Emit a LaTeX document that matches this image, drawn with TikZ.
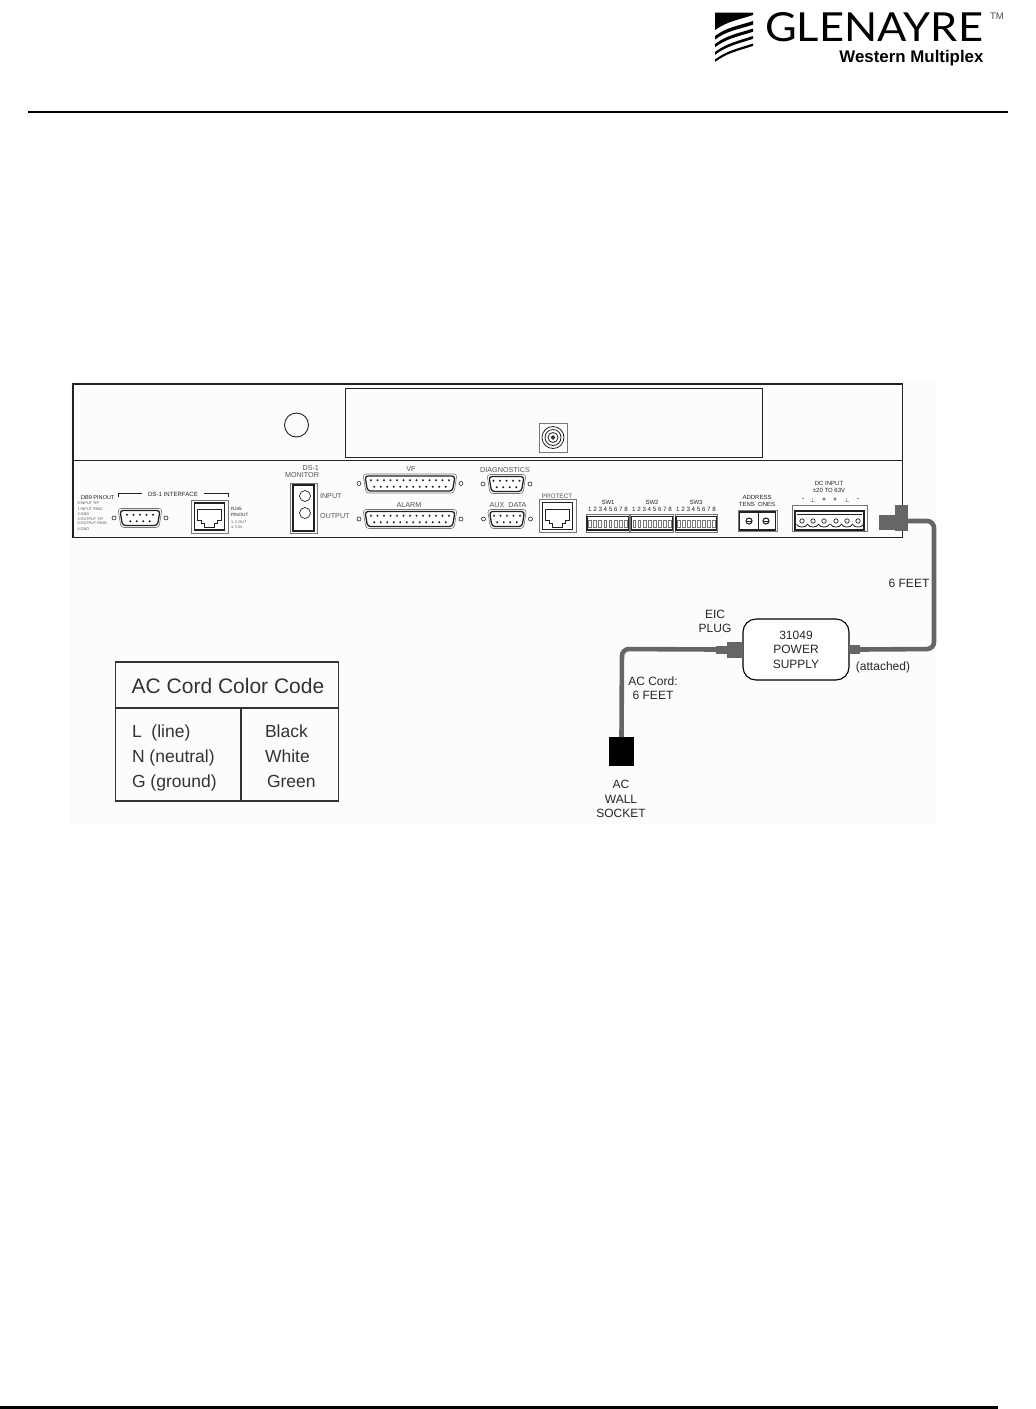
\documentclass[tikz,border=0pt]{standalone}
\usepackage{fontspec}
\setmainfont{Liberation Sans}
\newfontfamily\logofont{Lato}
\usetikzlibrary{calc}
\definecolor{cablegray}{HTML}{666666}
\definecolor{labelgray}{HTML}{555555}
\definecolor{edgegray}{HTML}{777777}
\definecolor{dark}{HTML}{222222}
\tikzset{
  every node/.style={inner sep=0pt,outer sep=0pt,font=\fontsize{12}{14.5}\selectfont,text=black!85},
  cable/.style={draw=cablegray,line width=4.6pt,rounded corners=7pt},
  plughead/.style={fill=cablegray,draw=none},
  panel/.style={draw=dark,line width=1.3pt},
  faint/.style={text=labelgray,font=\fontsize{7.2}{8}\selectfont},
  tiny/.style={text=dark,font=\fontsize{6}{7}\selectfont},
  micro/.style={text=labelgray,font=\fontsize{3.8}{4}\selectfont,anchor=west},
  tablet/.style={text=black!80,font=\fontsize{17.5}{20}\selectfont,anchor=base west},
  screw/.style={draw=dark,line width=.6pt,fill=white}
}
% D-sub connector: cx, cy, half width, top pins, bottom pins
\newcommand{\dsubconn}[5]{%
  \begin{scope}[shift={(#1,#2)}]
    \draw[edgegray,line width=.6pt,rounded corners=3pt] (-#3,-9.5) -- (#3,-9.5) -- (#3-3,9.5) -- (-#3+3,9.5) -- cycle;
    \draw[dark,line width=1.3pt,fill=white,rounded corners=3pt] (-#3+2,-7.5) -- (#3-2,-7.5) -- (#3-4.5,7.5) -- (-#3+4.5,7.5) -- cycle;
    \pgfmathsetmacro{\startA}{-(#4-1)*3.25}
    \pgfmathsetmacro{\startB}{-(#5-1)*3.25}
    \foreach \i in {1,...,#4}{\fill[dark] ({\startA+(\i-1)*6.5},-3.2) circle (1.15);}
    \foreach \i in {1,...,#5}{\fill[dark] ({\startB+(\i-1)*6.5},3.2) circle (1.15);}
    \draw[screw] (-#3-4,0) circle (2);
    \draw[screw] (#3+4,0) circle (2);
  \end{scope}}
% RJ45 jack: cx, cy
\newcommand{\rjjack}[2]{%
  \begin{scope}[shift={(#1,#2)}]
    \draw[edgegray,line width=.8pt] (-18.5,-16.5) rectangle (18.5,16.5);
    \draw[dark,line width=1.5pt,fill=white] (-15,-13.5) rectangle (15,13.5);
    \draw[dark,line width=1pt] (-12,-7) -- (12,-7) -- (12,4) -- (8,4) -- (8,7) -- (5,7) -- (5,11) -- (-5,11) -- (-5,7) -- (-8,7) -- (-8,4) -- (-12,4) -- cycle;
  \end{scope}}
% DIP switch: left, right
\newcommand{\dipswitch}[2]{%
  \draw[edgegray,line width=.6pt] (#1,514.5) rectangle (#2,532);
  \draw[dark,line width=1.3pt,fill=white] (#1+1,516.5) rectangle (#2-1,530);
  \pgfmathsetmacro{\dipmid}{(#1+#2)/2}
  \foreach \i in {-3.5,-2.5,...,3.5}{\draw[edgegray,line width=.5pt] ({\dipmid+\i*5.1-1.4},520) rectangle ({\dipmid+\i*5.1+1.4},527);}
}
\begin{document}
\begin{tikzpicture}[x=1pt,y=-1pt]
\useasboundingbox (0,0) rectangle (1036,1409);
\fill[white] (0,0) rectangle (1036,1409);
\fill[black!1] (70,380) rectangle (936,825);
% header
\draw[black,line width=2pt] (28,111.5) -- (1008,111.5);
\draw[black,line width=3pt] (0,1407.5) -- (998,1407.5);
% logo
\fill[black] (715,12.5) -- (753,12.5) -- (753,15) .. controls (738,20) and (728,21) .. (715,30) -- cycle;
\foreach \yl/\yr/\t in {36/21/3.6,44/28.5/3.2,52/36/2.8,59.5/43.5/2.4}{
  \fill[black] (715,\yl) .. controls (727,{\yl-9}) and (738,{\yr+5}) .. (753,\yr)
     -- (753,{\yr+\t}) .. controls (738,{\yr+5+\t}) and (727,{\yl-9+\t}) .. (715,{\yl+\t}) -- cycle;}
\node[anchor=west,text=black] (brand) at (765,27.5) {\resizebox{218pt}{29pt}{\logofont GLENAYRE}};
\node[anchor=west,text=black!70,font=\fontsize{9.5}{10}\selectfont] (tm) at (990,16) {TM};
\node[anchor=east,text=black] (sub) at (983.5,58) {\resizebox{144pt}{!}{\bfseries Western Multiplex}};
% chassis
\draw[panel] (73,384) rectangle (902.5,537.5);
\draw[panel] (73,460.5) -- (902.5,460.5);
\draw[dark,line width=.9pt] (296.5,425) circle (12);
\draw[dark,line width=1pt] (345.5,388) rectangle (762.5,457);
\draw[edgegray,line width=.7pt,fill=white] (539,423) rectangle (567,452);
\foreach \r/\w in {11/.8,8/.8,5/.8,1.5/1.2}{\draw[dark,line width=\w pt] (553,437.5) circle (\r);}
% DS-1 interface
\node[text=dark,font=\fontsize{5.6}{6}\selectfont,anchor=west] (db9t) at (81,498) {DB9 PINOUT};
\foreach \t/\y in {8 INPUT TIP/503.5,1 INPUT RING/509,2 GND/514,3 OUTPUT TIP/519,6 OUTPUT RING/523.5,4 GND/529}
  {\node[micro] at (77.5,\y) {\t};}
\node[faint,text=dark,font=\fontsize{6.1}{7}\selectfont] (dsi) at (173,494) {DS-1 INTERFACE};
\draw[dark,line width=.6pt] (118,497) -- (118,493.5) -- (142,493.5);
\draw[dark,line width=.6pt] (204,493.5) -- (228,493.5) -- (228,497);
\dsubconn{140}{518}{22}{5}{4}
\rjjack{209.5}{516.5}
\node[anchor=west,text=dark,font=\fontsize{4.6}{6}\selectfont,align=left] (rjt) at (231,512) {RJ45\\PINOUT};
\node[micro] at (231,522) {1, 2 OUT};
\node[micro] at (231,527) {4, 5 IN};
% monitor
\node[faint,anchor=east] (mon1) at (319,468) {DS-1};
\node[faint,anchor=east] (mon2) at (319,475) {MONITOR};
\draw[edgegray,line width=.8pt] (290,483) rectangle (317,533);
\draw[dark,line width=1.5pt,fill=white] (293,485) rectangle (314,531);
\draw[dark,line width=.7pt] (305,496) circle (5.5);
\draw[dark,line width=.7pt] (305,513) circle (5.5);
\node[faint,anchor=west] (mi) at (320,496) {INPUT};
\node[faint,anchor=west] (mo) at (320,516) {OUTPUT};
% VF / alarm
\node[faint] (vf) at (411,469) {VF};
\dsubconn{410}{483.5}{47}{13}{12}
\node[faint] (al) at (409,505) {ALARM};
\dsubconn{410}{519}{47}{13}{12}
\node[faint] (dg) at (505,470) {DIAGNOSTICS};
\dsubconn{506.5}{484}{19.5}{5}{4}
\node[faint] (aux) at (508,505) {AUX\ \ DATA};
\dsubconn{507}{519}{19.5}{5}{4}
\node[faint,font=\fontsize{6.4}{7}\selectfont] (pr) at (557,496) {PROTECT};
\rjjack{557.5}{516}
% switches
\dipswitch{586}{629.5}
\dipswitch{630.5}{673.5}
\dipswitch{675}{717.5}
\foreach \x/\t in {608/SW1,652/SW2,696/SW3}{
  \node[tiny] at (\x,502) {\t};
  \node[tiny,font=\fontsize{6.2}{7}\selectfont] at (\x,509) {1 2 3 4 5 6 7 8};}
% address
\node[tiny,align=center] (adr) at (757,501) {ADDRESS\\TENS\ \ ONES};
\draw[edgegray,line width=.7pt] (738,510) rectangle (777,531.5);
\draw[dark,line width=1.2pt,fill=white] (739.5,512) rectangle (775.5,530);
\draw[dark,line width=1pt] (758,512) -- (758,530);
\foreach \x in {749,766}{\draw[dark,line width=1.1pt] (\x,521) circle (3); \draw[dark,line width=.8pt] ({\x-2.5},521) -- ({\x+2.5},521);}
% DC input
\node[tiny,align=center] (dci) at (829,486.5) {DC INPUT\\±20 TO 63V};
\foreach \x/\t in {803/-,813/$\perp$,824/+,835/+,847/$\perp$,858/-}{\node[tiny,font=\bfseries\fontsize{6}{7}\selectfont] at (\x,500) {\t};}
\draw[edgegray,line width=.7pt] (792,505) rectangle (867,531.5);
\draw[dark,line width=1.5pt,fill=white] (795,511) rectangle (864,530);
\draw[dark,line width=.8pt] (797,514) -- (862,514);
\foreach \x in {802,813,824,836,847,858}{
  \draw[dark,line width=.7pt] (\x,521) circle (2.2);
  \draw[dark,line width=.8pt] ({\x-5.6},524) to[bend right=70] ({\x+5.6},524);}
% power path
\node[plughead,minimum width=13,minimum height=26] (dchead) at (901.5,518) {};
\node[plughead,minimum width=16,minimum height=15] (dcneck) at (887,522.5) {};
\node[draw=black,line width=1.1pt,rounded corners=13pt,fill=white,minimum width=106,minimum height=61,align=center] (psu) at (796,649.5) {31049\\POWER\\SUPPLY};
\node[plughead,minimum width=11,minimum height=9,anchor=west] (outplug) at (psu.east) {};
\node[plughead,minimum width=16,minimum height=16,anchor=east] (eichead) at (psu.west) {};
\node[plughead,minimum width=11,minimum height=8,anchor=east] (eicneck) at (eichead.west) {};
\node[fill=black,minimum width=25,minimum height=29] (wall) at (621.5,751.5) {};
\coordinate (c1) at (934,521);
\coordinate (c2) at (934,649);
\coordinate (c3) at (622,649);
\draw[cable] (dchead.east |- c1) -- (c1) -- (c2) -- (outplug.east);
\draw[cable] (eicneck.west) -- (c3) -- (wall.north);
\node (feet) at (909,583) {6 FEET};
\node[align=center] (eic) at (715,621.5) {EIC\\PLUG};
\node (att) at (883,667) {(attached)};
\node[align=center] (cord) at (653,688) {AC Cord:\\6 FEET};
\node[align=center] (wl) at (621,799) {AC\\WALL\\SOCKET};
% colour table
\draw[black!80,line width=1.6pt] (115.5,662) rectangle (338.5,801);
\draw[black!80,line width=1.6pt] (115.5,708) -- (338.5,708);
\draw[black!80,line width=1.6pt] (241,708) -- (241,801);
\node[font=\fontsize{21}{22}\selectfont,text=black!80] (tt) at (228,686) {AC Cord Color Code};
\node[tablet] at (132,737) {L\ \ (line)};
\node[tablet] at (132,762) {N (neutral)};
\node[tablet] at (132,787) {G (ground)};
\node[tablet] at (265,737) {Black};
\node[tablet] at (265,762) {White};
\node[tablet] at (267,787) {Green};
\end{tikzpicture}
\end{document}
